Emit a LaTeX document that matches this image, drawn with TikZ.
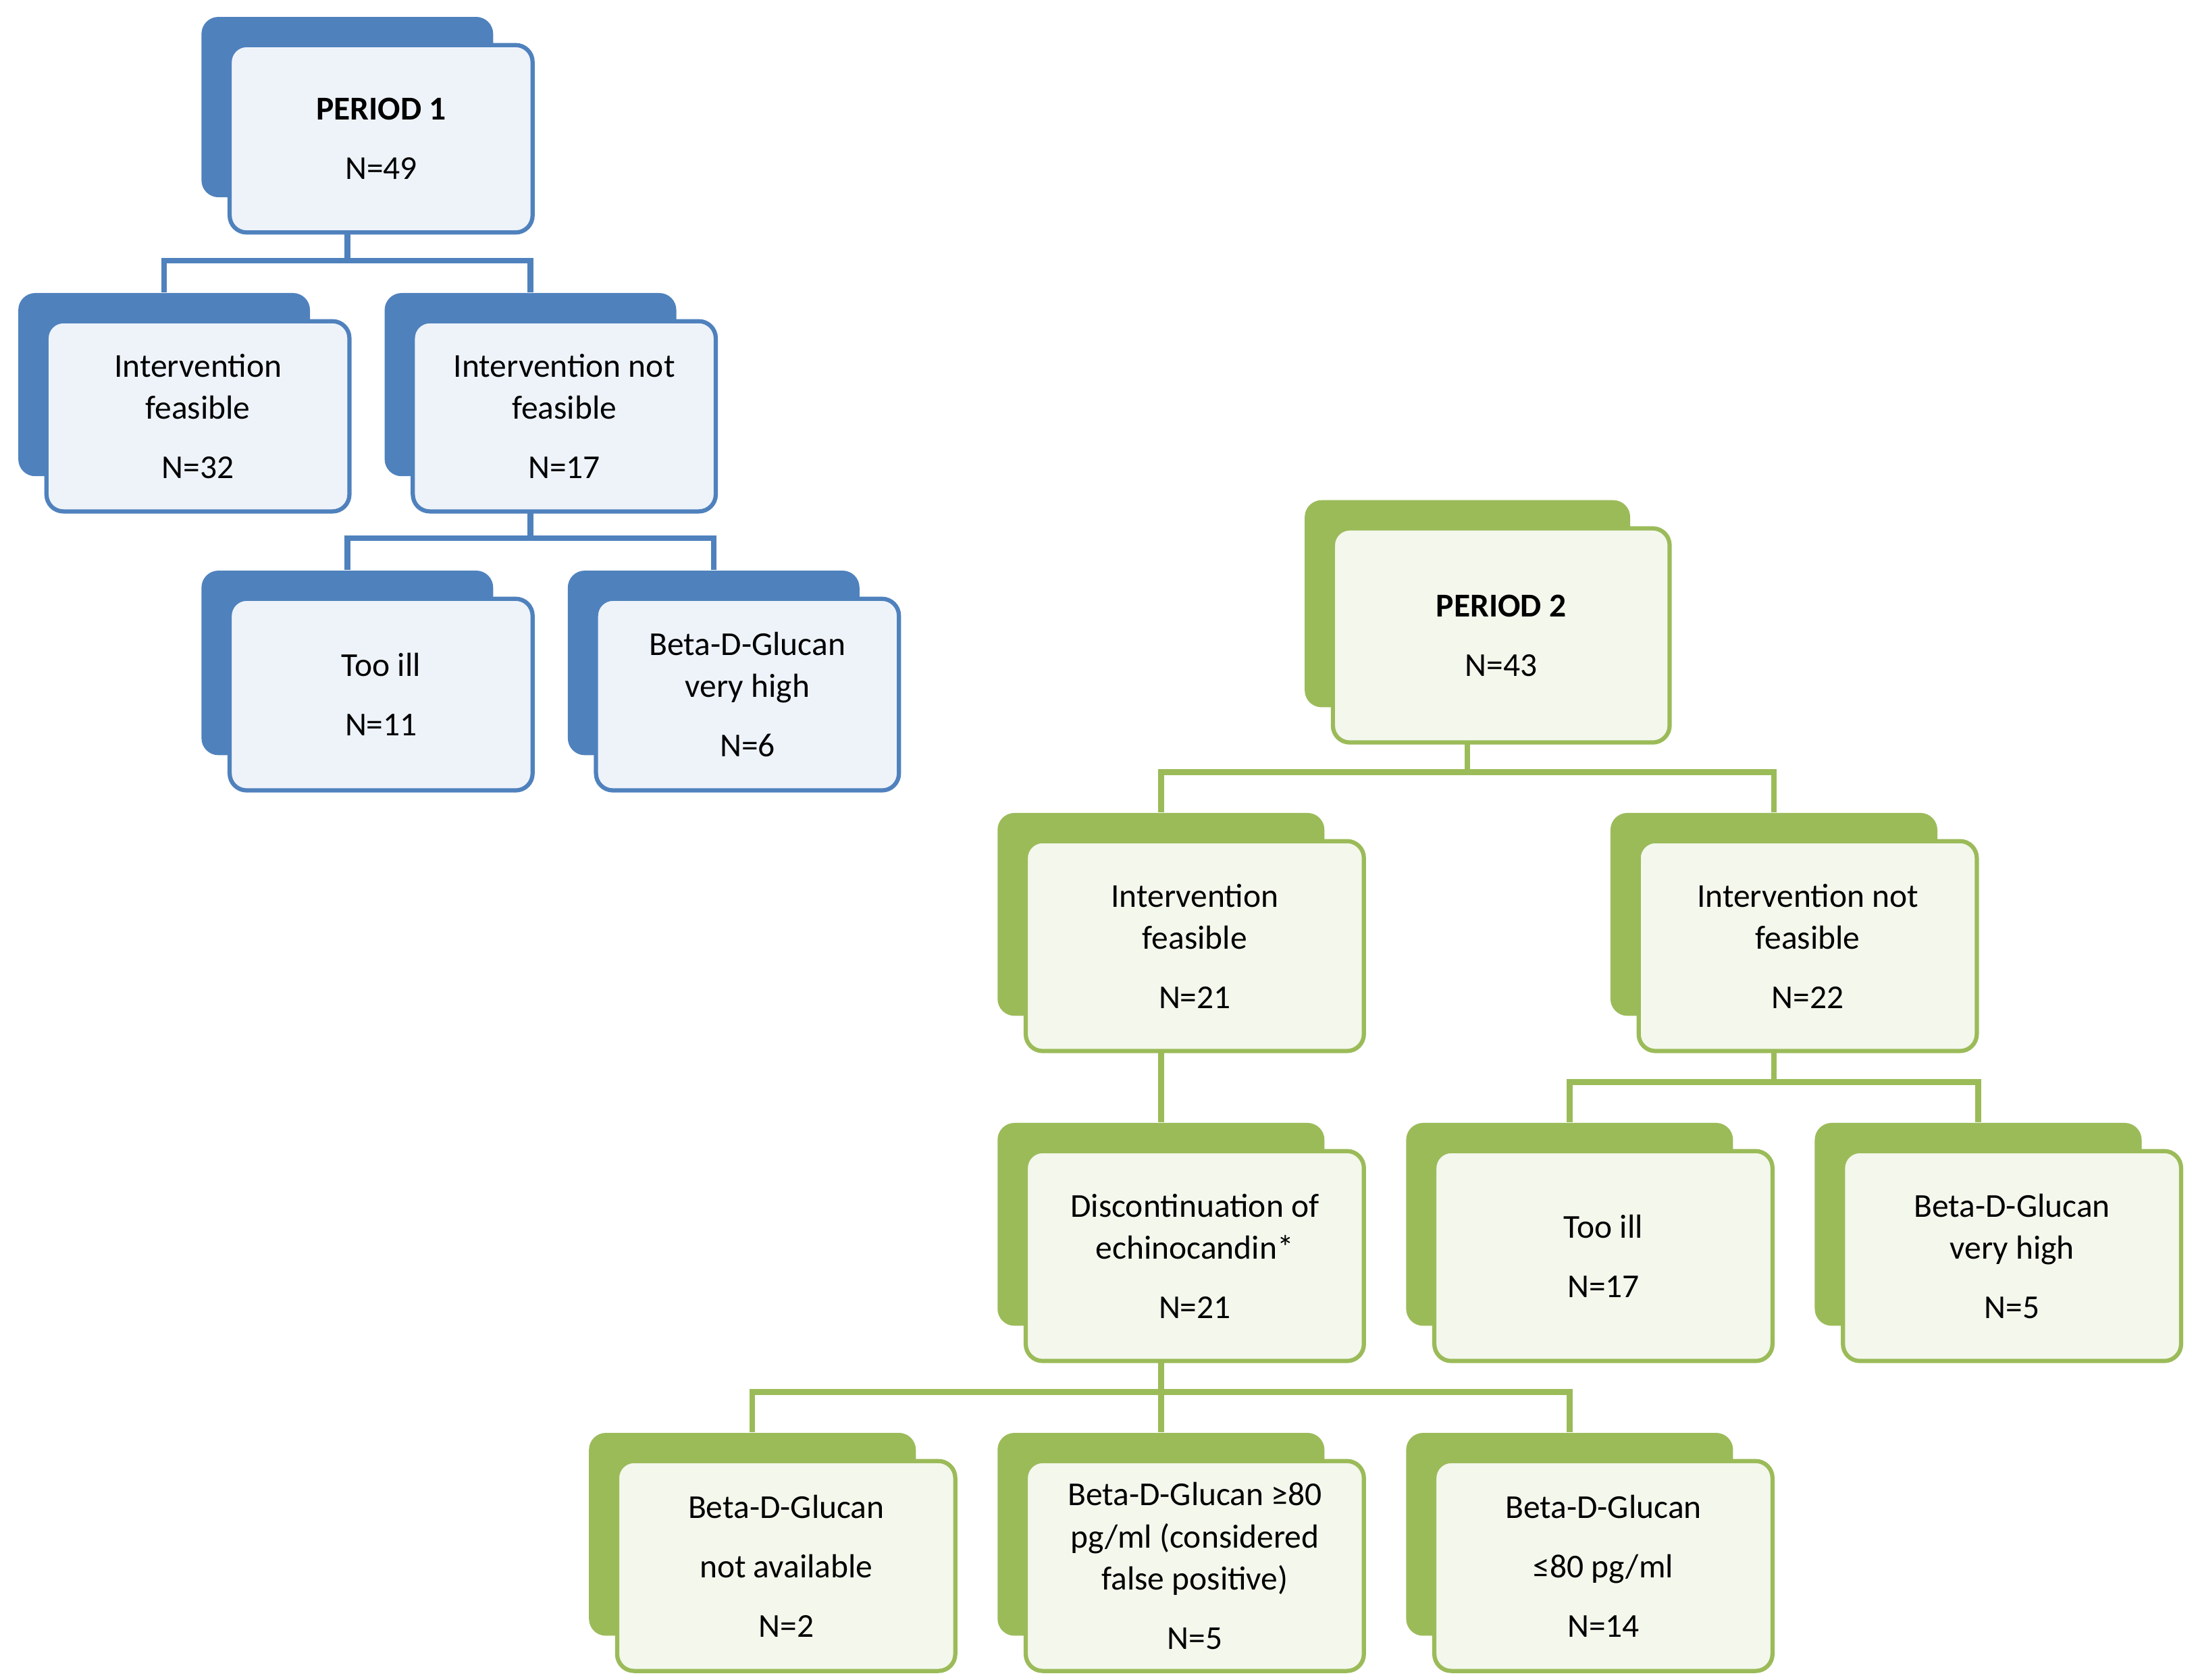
\documentclass[tikz,border=0pt]{standalone}
\usepackage{fontspec}
\setmainfont{Carlito}
\definecolor{bl}{HTML}{4F81BD}
\definecolor{blf}{HTML}{EEF3FA}
\definecolor{gr}{HTML}{9BBB59}
\definecolor{grf}{HTML}{F3F7EC}
\tikzset{
 back/.style={draw=none,fill=#1,rounded corners=0.24cm,inner sep=0pt},
 front/.style={draw=#1,fill=#1f,line width=1.7pt,rounded corners=0.24cm,inner sep=0pt,align=center,font=\fontsize{13.5}{17}\selectfont},
 conn/.style={draw=#1,line width=2.3pt},
}
\newcommand\bx[7]{%
 \node[back=#6,minimum width={(#4-#2-8)*0.02cm},minimum height={(#5-#3-5)*0.02cm}] (#1b) at ({(#2+#4)/2-24},{(#3+#5)/2-22.5}) {};
 \node[front=#6,minimum width={(#4-#2)*0.02cm},minimum height={(#5-#3)*0.02cm}] (#1) at ({(#2+#4)/2},{(#3+#5)/2}) {#7};
}
\begin{document}
\begin{tikzpicture}[x=0.02cm,y=-0.02cm]
\useasboundingbox (0,0) rectangle (1560,1192);
% connectors
\begin{scope}[every path/.style={conn=bl}]
\coordinate (cP1) at (247,185);
\coordinate (cI1) at (377,382);
\end{scope}
\coordinate (cP2) at (1040,548);
\coordinate (cN2) at (1258,768);
\coordinate (cD) at (821,988);
% boxes first as coordinates need names: draw connectors via layers
\pgfdeclarelayer{bg}\pgfsetlayers{bg,main}
\bx{P1}{163}{32}{378}{165}{bl}{\textbf{PERIOD 1}\\[7pt]N=49}
\bx{IF1}{33}{228}{248}{363}{bl}{Intervention\\feasible\\[7pt]N=32}
\bx{INF1}{293}{228}{508}{363}{bl}{Intervention not\\feasible\\[7pt]N=17}
\bx{TI1}{163}{425}{378}{561}{bl}{Too ill\\[7pt]N=11}
\bx{BD1}{423}{425}{638}{561}{bl}{Beta-D-Glucan\\very high\\[7pt]N=6}
\bx{P2}{946}{375}{1185}{527}{gr}{\textbf{PERIOD 2}\\[7pt]N=43}
\bx{IF2}{728}{597}{968}{746}{gr}{Intervention\\feasible\\[7pt]N=21}
\bx{INF2}{1163}{597}{1403}{746}{gr}{Intervention not\\feasible\\[7pt]N=22}
\bx{DI}{728}{817}{968}{966}{gr}{Discontinuation of\\echinocandin*\\[7pt]N=21}
\bx{TI2}{1018}{817}{1258}{966}{gr}{Too ill\\[7pt]N=17}
\bx{BD2}{1308}{817}{1548}{966}{gr}{Beta-D-Glucan\\very high\\[7pt]N=5}
\bx{NA}{438}{1037}{678}{1186}{gr}{Beta-D-Glucan\\[7pt]not available\\[7pt]N=2}
\bx{GE}{728}{1037}{968}{1186}{gr}{Beta-D-Glucan ≥80\\pg/ml (considered\\false positive)\\[7pt]N=5}
\bx{LE}{1018}{1037}{1258}{1186}{gr}{Beta-D-Glucan\\[7pt]≤80 pg/ml\\[7pt]N=14}
\begin{pgfonlayer}{bg}
\draw[conn=bl] (P1b.south) -- (P1b.south |- cP1) -| (IF1b.north);
\draw[conn=bl] (P1b.south |- cP1) -| (INF1b.north);
\draw[conn=bl] (INF1b.south) -- (INF1b.south |- cI1) -| (TI1b.north);
\draw[conn=bl] (INF1b.south |- cI1) -| (BD1b.north);
\draw[conn=gr] (P2b.south) -- (P2b.south |- cP2) -| (IF2b.north);
\draw[conn=gr] (P2b.south |- cP2) -| (INF2b.north);
\draw[conn=gr] (IF2b.south) -- (DIb.north);
\draw[conn=gr] (INF2b.south) -- (INF2b.south |- cN2) -| (TI2b.north);
\draw[conn=gr] (INF2b.south |- cN2) -| (BD2b.north);
\draw[conn=gr] (DIb.south) -- (DIb.south |- cD) -| (NAb.north);
\draw[conn=gr] (DIb.south |- cD) -| (GEb.north);
\draw[conn=gr] (DIb.south |- cD) -| (LEb.north);
\end{pgfonlayer}
\end{tikzpicture}
\end{document}
